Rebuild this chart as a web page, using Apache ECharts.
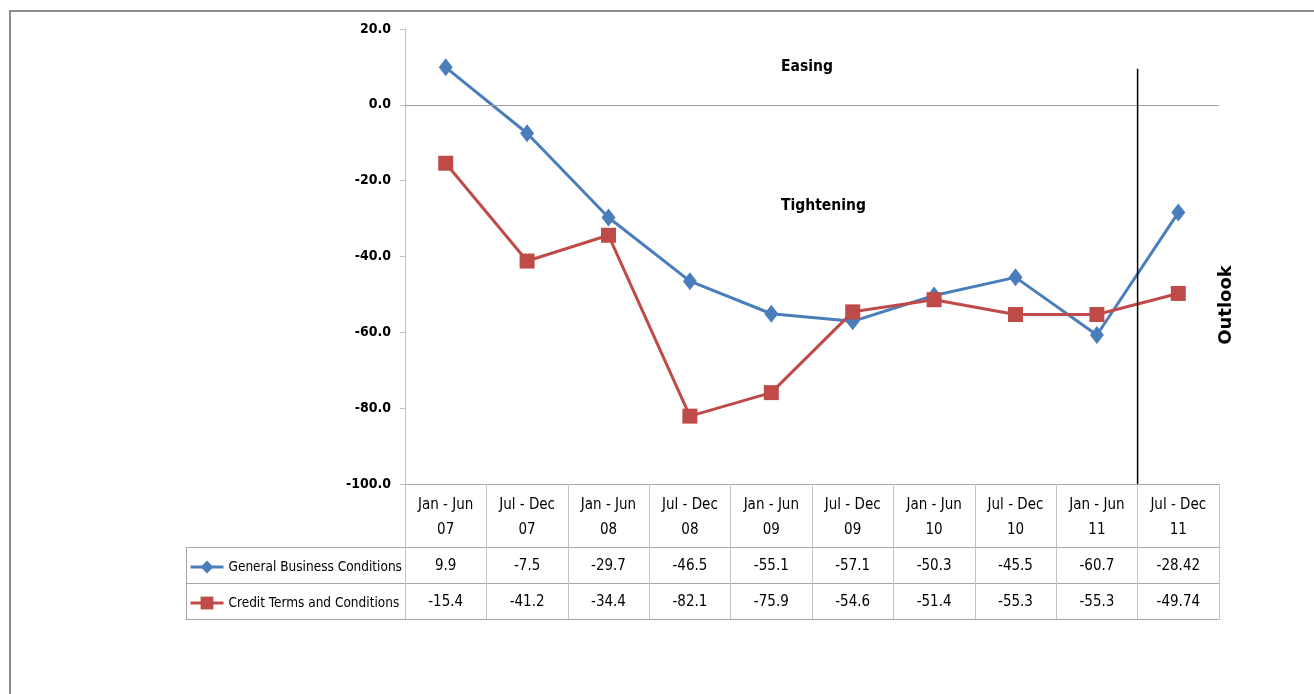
<!DOCTYPE html>
<html>
<head>
<meta charset="utf-8">
<script src="https://cdn.jsdelivr.net/npm/echarts@6/dist/echarts.min.js"></script>
<style>
  html, body { margin: 0; padding: 0; background: #fff; }
  #chart { width: 1314px; height: 694px; }
</style>
</head>
<body>
<div id="chart"></div>
<script>
// categories (half-year periods)
const periods = [
  'Jan - Jun\n07', 'Jul - Dec\n07', 'Jan - Jun\n08', 'Jul - Dec\n08', 'Jan - Jun\n09',
  'Jul - Dec\n09', 'Jan - Jun\n10', 'Jul - Dec\n10', 'Jan - Jun\n11', 'Jul - Dec\n11'
]
const generalBusiness = [9.9, -7.5, -29.7, -46.5, -55.1, -57.1, -50.3, -45.5, -60.7, -28.42]
const creditTerms = [-15.4, -41.2, -34.4, -82.1, -75.9, -54.6, -51.4, -55.3, -55.3, -49.74]
const seriesNames = ['General Business Conditions', 'Credit Terms and Conditions']
const yMin = -100
const yMax = 20
const yStep = 20
// outlook divider: boundary before the last period, top value
const outlookBoundary = 9
const outlookTop = 9.5

const FONT = '"DejaVu Sans Condensed", "Liberation Sans Narrow", "Liberation Sans", sans-serif'
const BLUE = '#4a7ebb'
const RED = '#be4b48'
const TABLE_LINE = '#a6a6a6'
const TABLE_TICK = '#c4c4c4'

const chart = echarts.init(document.getElementById('chart'))

const gridLeft = 405
const gridRight = 1219
const gridTop = 29
const gridBottom = 484
const headerH = 63
const rowH = 36

const tableAxis = (offset, values) => ({
  type: 'category',
  data: periods,
  position: 'bottom',
  offset: offset,
  axisLine: { show: true, onZero: false, lineStyle: { color: TABLE_LINE, width: 1 } },
  axisTick: values ? { show: true, length: rowH, interval: 0, lineStyle: { color: TABLE_TICK } } : { show: false },
  axisLabel: values ? {
    show: true,
    interval: 0,
    margin: 12,
    color: '#000',
    fontFamily: FONT,
    fontSize: 15,
    formatter: (v, i) => String(values[i])
  } : { show: false },
  splitLine: { show: false }
})

chart.setOption({
  animation: false,
  grid: { left: gridLeft, right: 1314 - gridRight, top: gridTop, bottom: 694 - gridBottom },
  legend: {
    data: seriesNames,
    orient: 'vertical',
    left: 184,
    top: 554,
    itemWidth: 33,
    itemHeight: 16,
    itemGap: 20,
    lineStyle: { width: 3 },
    textStyle: { color: '#000', fontFamily: FONT, fontSize: 13.5, lineHeight: 16 }
  },
  xAxis: [
    {
      type: 'category',
      data: periods,
      position: 'bottom',
      axisLine: { onZero: false, lineStyle: { color: TABLE_LINE, width: 1 } },
      axisTick: { show: true, length: headerH, interval: 0, lineStyle: { color: TABLE_TICK } },
      axisLabel: {
        interval: 0,
        margin: 9,
        color: '#000',
        fontFamily: FONT,
        fontSize: 15,
        lineHeight: 25
      },
      splitLine: { show: false }
    },
    tableAxis(headerH, generalBusiness),
    tableAxis(headerH + rowH, creditTerms),
    tableAxis(headerH + 2 * rowH, null),
    { type: 'value', min: 0, max: periods.length, show: false }
  ],
  yAxis: {
    type: 'value',
    min: yMin,
    max: yMax,
    interval: yStep,
    axisLine: { show: true, lineStyle: { color: '#bfbfbf', width: 1 } },
    axisTick: { show: true, length: 5, lineStyle: { color: '#bfbfbf' } },
    axisLabel: {
      margin: 14,
      color: '#000',
      fontFamily: FONT,
      fontSize: 14,
      fontWeight: 'bold',
      formatter: v => v.toFixed(1)
    },
    splitLine: { show: false }
  },
  series: [
    {
      name: seriesNames[0],
      type: 'line',
      data: generalBusiness,
      symbol: 'diamond',
      symbolSize: [14, 18],
      lineStyle: { color: BLUE, width: 3 },
      itemStyle: { color: BLUE },
      z: 3,
      markLine: {
        silent: true,
        symbol: 'none',
        label: { show: false },
        lineStyle: { color: '#a0a0a0', width: 1, type: 'solid' },
        data: [{ yAxis: 0 }]
      }
    },
    {
      name: seriesNames[1],
      type: 'line',
      data: creditTerms,
      symbol: 'rect',
      symbolSize: 15,
      lineStyle: { color: RED, width: 3 },
      itemStyle: { color: RED },
      z: 4
    },
    {
      name: 'Outlook divider',
      type: 'line',
      xAxisIndex: 4,
      data: [[outlookBoundary, outlookTop], [outlookBoundary, yMin]],
      symbol: 'none',
      silent: true,
      lineStyle: { color: '#000', width: 1.5 },
      z: 5
    }
  ],
  graphic: [
    // outer frame (top and left edges visible)
    { type: 'line', shape: { x1: 9, y1: 11, x2: 1314, y2: 11 }, style: { stroke: '#8c8c8c', lineWidth: 2 } },
    { type: 'line', shape: { x1: 10, y1: 10, x2: 10, y2: 694 }, style: { stroke: '#8c8c8c', lineWidth: 2 } },
    // legend cells of the data table
    { type: 'line', shape: { x1: 186, y1: 547.5, x2: gridLeft, y2: 547.5 }, style: { stroke: TABLE_LINE, lineWidth: 1 } },
    { type: 'line', shape: { x1: 186, y1: 583.5, x2: gridLeft, y2: 583.5 }, style: { stroke: TABLE_LINE, lineWidth: 1 } },
    { type: 'line', shape: { x1: 186, y1: 619.5, x2: gridLeft, y2: 619.5 }, style: { stroke: TABLE_LINE, lineWidth: 1 } },
    { type: 'line', shape: { x1: 186.5, y1: 547, x2: 186.5, y2: 620 }, style: { stroke: TABLE_LINE, lineWidth: 1 } },
    { type: 'line', shape: { x1: gridLeft + 0.5, y1: 484, x2: gridLeft + 0.5, y2: 620 }, style: { stroke: TABLE_TICK, lineWidth: 1 } },
    // annotations
    {
      type: 'text', x: 781, y: 67,
      style: { text: 'Easing', fill: '#000', font: 'bold 15.5px ' + FONT, textVerticalAlign: 'middle' }
    },
    {
      type: 'text', x: 781, y: 206,
      style: { text: 'Tightening', fill: '#000', font: 'bold 15.5px ' + FONT, textVerticalAlign: 'middle' }
    },
    {
      type: 'text', x: 1226, y: 305, rotation: Math.PI / 2,
      style: { text: 'Outlook', fill: '#000', font: 'bold 18px "DejaVu Sans", sans-serif', textAlign: 'center', textVerticalAlign: 'middle' }
    }
  ]
})
</script>
</body>
</html>
